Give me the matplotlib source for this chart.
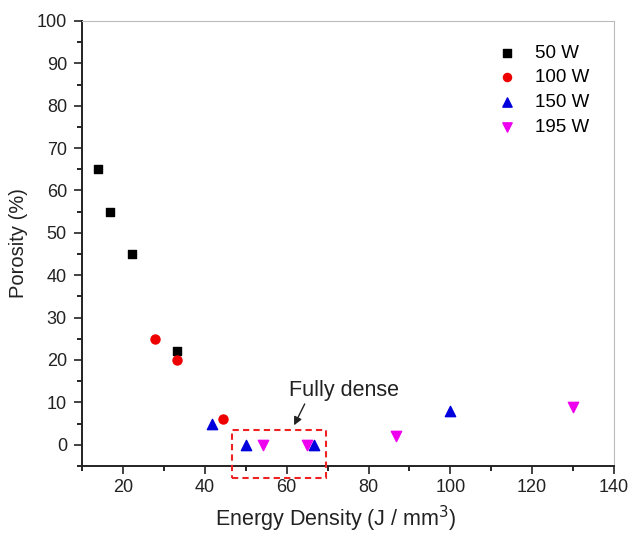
import matplotlib
matplotlib.use("Agg")
import matplotlib.pyplot as plt
from matplotlib.patches import Rectangle
from matplotlib.ticker import MultipleLocator

plt.rcParams['font.family'] = ['Liberation Sans', 'DejaVu Sans']

# data
ed_50 = [13.9, 16.7, 22.2, 33.3]
por_50 = [65, 55, 45, 22]
ed_100 = [27.8, 33.3, 44.4]
por_100 = [25, 20, 6]
ed_150 = [41.7, 50.0, 66.7, 100.0]
por_150 = [5, 0, 0, 8]
ed_195 = [54.2, 65.0, 86.7, 130.0]
por_195 = [0, 0, 2, 9]

fig = plt.figure(figsize=(6.32, 5.38), dpi=100)
ax = fig.add_axes([0.130, 0.134, 0.8415, 0.827])

ax.scatter(ed_50, por_50, marker='s', s=38, color='black', label='50 W', zorder=3)
ax.scatter(ed_100, por_100, marker='o', s=42, color='#ee0000', label='100 W', zorder=3)
ax.scatter(ed_150, por_150, marker='^', s=55, color='#0000dd', label='150 W', zorder=3)
ax.scatter(ed_195, por_195, marker='v', s=55, color='#ee00ee', label='195 W', zorder=3)

ax.set_xlim(10, 140)
ax.set_ylim(-5, 100)
ax.xaxis.set_major_locator(MultipleLocator(20))
ax.xaxis.set_minor_locator(MultipleLocator(10))
ax.yaxis.set_major_locator(MultipleLocator(10))
ax.yaxis.set_minor_locator(MultipleLocator(5))
ax.tick_params(which='major', direction='out', length=6, width=1.2, labelsize=13, colors='#222222')
ax.tick_params(which='minor', direction='out', length=3.5, width=1.2)
ax.tick_params(axis='y', pad=5)

for side in ['left', 'bottom']:
    ax.spines[side].set_linewidth(1.4)
    ax.spines[side].set_color('#222222')
for side in ['top', 'right']:
    ax.spines[side].set_linewidth(0.8)
    ax.spines[side].set_color('#bbbbbb')

ax.set_xlabel('Energy Density (J / mm$^3$)', fontsize=15.5, color='#222222')
ax.xaxis.set_label_coords(0.476, -0.085)
ax.set_ylabel('Porosity (%)', fontsize=14.5, color='#222222', labelpad=6)

# fully dense box + arrow
box = Rectangle((46.7, -7.8), 22.8, 11.3, fill=False, edgecolor='#ee2222',
                linestyle=(0, (3, 2)), linewidth=1.5, clip_on=False, zorder=4)
ax.add_patch(box)
ax.annotate('', xy=(61.5, 4.0), xytext=(64.7, 10.2),
            arrowprops=dict(arrowstyle='-|>', color='#222222', lw=1.0, mutation_scale=12))
ax.text(73.9, 12.8, 'Fully dense', fontsize=15.5, color='#222222', ha='center', va='center')

leg = ax.legend(loc='upper right', bbox_to_anchor=(0.985, 0.985), frameon=False,
                fontsize=13.5, handletextpad=0.5, labelspacing=0.4, markerscale=0.9)

fig.savefig('out.png', dpi=100)
